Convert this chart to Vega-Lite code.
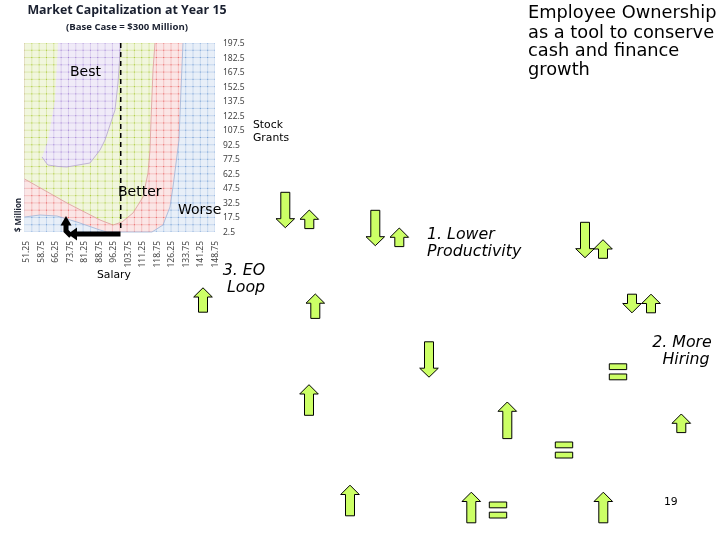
{
"$schema":"https://vega.github.io/schema/vega-lite/v6.json",
"width":720,"height":540,"padding":0,"autosize":{"type":"fit","contains":"padding"},
"background":"#ffffff","view":{"stroke":null},
"resolve":{"scale":{"x":"independent","y":"independent"}},
"datasets":{
"plot":[{"salary":51.25,"top":197.5,"bottom":2.5},{"salary":148.75,"top":197.5,"bottom":2.5}],
"red":[{"salary":51.25,"top":197.5,"bottom":17.98},{"salary":59.18,"top":197.5,"bottom":20.04},{"salary":67.88,"top":197.5,"bottom":19.0},{"salary":78.12,"top":197.5,"bottom":12.8},{"salary":89.89,"top":197.5,"bottom":4.56},{"salary":93.47,"top":197.5,"bottom":2.5},{"salary":116.5,"top":197.5,"bottom":2.5},{"salary":122.13,"top":197.5,"bottom":9.72},{"salary":125.71,"top":197.5,"bottom":28.3},{"salary":127.25,"top":197.5,"bottom":48.9},{"salary":130.32,"top":197.5,"bottom":97.4},{"salary":131.34,"top":197.5,"bottom":149.0},{"salary":132.37,"top":197.5,"bottom":197.5}],
"green":[{"salary":51.25,"top":197.5,"bottom":57.2},{"salary":73.0,"top":197.5,"bottom":32.4},{"salary":89.89,"top":197.5,"bottom":14.9},{"salary":96.54,"top":197.5,"bottom":9.7},{"salary":101.15,"top":197.5,"bottom":12.8},{"salary":106.78,"top":197.5,"bottom":22.1},{"salary":111.9,"top":197.5,"bottom":38.6},{"salary":114.46,"top":197.5,"bottom":63.4},{"salary":115.48,"top":197.5,"bottom":87.1},{"salary":116.0,"top":197.5,"bottom":118.05},{"salary":117.02,"top":197.5,"bottom":169.6},{"salary":118.04,"top":197.5,"bottom":197.5}],
"purple":[{"salary":60.2,"top":79.9,"bottom":79.9},{"salary":62.77,"top":94.3,"bottom":72.7},{"salary":63.28,"top":97.4,"bottom":71.6},{"salary":66.86,"top":138.7,"bottom":70.6},{"salary":68.4,"top":197.5,"bottom":70.1},{"salary":73.0,"top":197.5,"bottom":69.6},{"salary":84.77,"top":197.5,"bottom":73.7},{"salary":89.89,"top":197.5,"bottom":87.1},{"salary":92.45,"top":197.5,"bottom":97.4},{"salary":97.57,"top":197.5,"bottom":128.4},{"salary":99.1,"top":197.5,"bottom":156.2},{"salary":100.5,"top":197.5,"bottom":197.5}],
"gridX":[{"salary":51.25},{"salary":55},{"salary":58.75},{"salary":62.5},{"salary":66.25},{"salary":70},{"salary":73.75},{"salary":77.5},{"salary":81.25},{"salary":85},{"salary":88.75},{"salary":92.5},{"salary":96.25},{"salary":100},{"salary":103.75},{"salary":107.5},{"salary":111.25},{"salary":115},{"salary":118.75},{"salary":122.5},{"salary":126.25},{"salary":130},{"salary":133.75},{"salary":137.5},{"salary":141.25},{"salary":145},{"salary":148.75}],
"gridY":[{"stock":2.5},{"stock":10},{"stock":17.5},{"stock":25},{"stock":32.5},{"stock":40},{"stock":47.5},{"stock":55},{"stock":62.5},{"stock":70},{"stock":77.5},{"stock":85},{"stock":92.5},{"stock":100},{"stock":107.5},{"stock":115},{"stock":122.5},{"stock":130},{"stock":137.5},{"stock":145},{"stock":152.5},{"stock":160},{"stock":167.5},{"stock":175},{"stock":182.5},{"stock":190},{"stock":197.5}],
"xLabels":[{"salary":51.25,"label":"51.25"},{"salary":58.75,"label":"58.75"},{"salary":66.25,"label":"66.25"},{"salary":73.75,"label":"73.75"},{"salary":81.25,"label":"81.25"},{"salary":88.75,"label":"88.75"},{"salary":96.25,"label":"96.25"},{"salary":103.75,"label":"103.75"},{"salary":111.25,"label":"111.25"},{"salary":118.75,"label":"118.75"},{"salary":126.25,"label":"126.25"},{"salary":133.75,"label":"133.75"},{"salary":141.25,"label":"141.25"},{"salary":148.75,"label":"148.75"}],
"yLabels":[{"stock":197.5,"label":"197.5"},{"stock":182.5,"label":"182.5"},{"stock":167.5,"label":"167.5"},{"stock":152.5,"label":"152.5"},{"stock":137.5,"label":"137.5"},{"stock":122.5,"label":"122.5"},{"stock":107.5,"label":"107.5"},{"stock":92.5,"label":"92.5"},{"stock":77.5,"label":"77.5"},{"stock":62.5,"label":"62.5"},{"stock":47.5,"label":"47.5"},{"stock":32.5,"label":"32.5"},{"stock":17.5,"label":"17.5"},{"stock":2.5,"label":"2.5"}],
"shafts":[{"part":"h","n":1,"sx":120.5,"sy":234},{"part":"h","n":2,"sx":75,"sy":234},{"part":"v","n":1,"sx":66,"sy":223},{"part":"v","n":2,"sx":66,"sy":231},{"part":"v","n":3,"sx":71,"sy":236}],
"headLeft":[{"sx":73,"sy":234}],
"headUp":[{"sx":66,"sy":221}],
"up19":[{"sx":309.3,"sy":219.3},{"sx":399.3,"sy":237.3},{"sx":603,"sy":249},{"sx":651,"sy":303.5},{"sx":681.3,"sy":423.3}],
"down19":[{"sx":632,"sy":303.5}],
"up25":[{"sx":203,"sy":300},{"sx":315.3,"sy":306.2}],
"up30":[{"sx":309,"sy":400},{"sx":350,"sy":500.5},{"sx":471.3,"sy":507.5},{"sx":603.3,"sy":507.5}],
"up37":[{"sx":507.3,"sy":420.3}],
"down35":[{"sx":285.3,"sy":210},{"sx":375.3,"sy":228},{"sx":429,"sy":359.5},{"sx":585,"sy":240}],
"equal":[{"sx":618,"sy":371.8},{"sx":564,"sy":450},{"sx":498,"sy":510}],
"titleText":[{"sx":127,"sy":10,"t":"Market Capitalization  at Year 15"}],
"subText":[{"sx":127,"sy":27,"t":"(Base Case = $300 Million)"}],
"regionText":[{"sx":70,"sy":72,"t":"Best"},{"sx":118,"sy":192,"t":"Better"},{"sx":178,"sy":210,"t":"Worse"}],
"smallText":[{"sx":253,"sy":125,"t":"Stock"},{"sx":253,"sy":138,"t":"Grants"},{"sx":97,"sy":275,"t":"Salary"},{"sx":664,"sy":502,"t":"19"}],
"heading":[{"sx":528,"sy":18,"t":"Employee Ownership"},{"sx":528,"sy":37.5,"t":"as a tool to conserve"},{"sx":528,"sy":56,"t":"cash and finance"},{"sx":528,"sy":75,"t":"growth"}],
"notesLeft":[{"sx":427,"sy":234,"t":"1. Lower"},{"sx":427,"sy":251,"t":"Productivity"}],
"notesCenter":[{"sx":244,"sy":270,"t":"3. EO"},{"sx":246,"sy":287,"t":"Loop"},{"sx":682,"sy":342,"t":"2. More"},{"sx":686,"sy":359,"t":"Hiring"}],
"million":[{"sx":19,"sy":215,"t":"$ Million"}]
},
"layer":[
{"data":{"name":"plot"},"mark":{"type":"area","fill":"#e8eff8"},"encoding":{"x":{"field":"salary","type":"quantitative","axis":null,"scale":{"domain":[51.25,148.75],"range":[24.5,215],"nice":false,"zero":false}},"y":{"field":"top","type":"quantitative","axis":null,"scale":{"domain":[2.5,197.5],"range":[232,43],"nice":false,"zero":false}},"y2":{"field":"bottom"}}},
{"data":{"name":"red"},"mark":{"type":"area","fill":"#fbe6e6"},"encoding":{"x":{"field":"salary","type":"quantitative","axis":null,"scale":{"domain":[51.25,148.75],"range":[24.5,215],"nice":false,"zero":false}},"y":{"field":"top","type":"quantitative","axis":null,"scale":{"domain":[2.5,197.5],"range":[232,43],"nice":false,"zero":false}},"y2":{"field":"bottom"}}},
{"data":{"name":"green"},"mark":{"type":"area","fill":"#f1f6de"},"encoding":{"x":{"field":"salary","type":"quantitative","axis":null,"scale":{"domain":[51.25,148.75],"range":[24.5,215],"nice":false,"zero":false}},"y":{"field":"top","type":"quantitative","axis":null,"scale":{"domain":[2.5,197.5],"range":[232,43],"nice":false,"zero":false}},"y2":{"field":"bottom"}}},
{"data":{"name":"purple"},"mark":{"type":"area","fill":"#f0ebf8"},"encoding":{"x":{"field":"salary","type":"quantitative","axis":null,"scale":{"domain":[51.25,148.75],"range":[24.5,215],"nice":false,"zero":false}},"y":{"field":"top","type":"quantitative","axis":null,"scale":{"domain":[2.5,197.5],"range":[232,43],"nice":false,"zero":false}},"y2":{"field":"bottom"}}},
{"data":{"name":"gridX"},"mark":{"type":"rule","stroke":"#666666","strokeWidth":1,"blend":"color-burn","y":43,"y2":232},"encoding":{"x":{"field":"salary","type":"quantitative","axis":null,"scale":{"domain":[51.25,148.75],"range":[24.5,215],"nice":false,"zero":false}}}},
{"data":{"name":"gridY"},"mark":{"type":"rule","stroke":"#666666","strokeWidth":1,"blend":"color-burn","x":24.5,"x2":215},"encoding":{"y":{"field":"stock","type":"quantitative","axis":null,"scale":{"domain":[2.5,197.5],"range":[232,43],"nice":false,"zero":false}}}},
{"data":{"name":"red"},"mark":{"type":"line","stroke":"#9db4d8","strokeWidth":0.8},"encoding":{"x":{"field":"salary","type":"quantitative","axis":null,"scale":{"domain":[51.25,148.75],"range":[24.5,215],"nice":false,"zero":false}},"y":{"field":"bottom","type":"quantitative","axis":null,"scale":{"domain":[2.5,197.5],"range":[232,43],"nice":false,"zero":false}}}},
{"data":{"name":"green"},"mark":{"type":"line","stroke":"#dd9a9a","strokeWidth":0.8},"encoding":{"x":{"field":"salary","type":"quantitative","axis":null,"scale":{"domain":[51.25,148.75],"range":[24.5,215],"nice":false,"zero":false}},"y":{"field":"bottom","type":"quantitative","axis":null,"scale":{"domain":[2.5,197.5],"range":[232,43],"nice":false,"zero":false}}}},
{"data":{"name":"purple"},"mark":{"type":"line","stroke":"#b5a5d0","strokeWidth":0.8},"encoding":{"x":{"field":"salary","type":"quantitative","axis":null,"scale":{"domain":[51.25,148.75],"range":[24.5,215],"nice":false,"zero":false}},"y":{"field":"bottom","type":"quantitative","axis":null,"scale":{"domain":[2.5,197.5],"range":[232,43],"nice":false,"zero":false}}}},
{"data":{"values":[{"salary":100.5}]},"mark":{"type":"rule","stroke":"#000000","strokeWidth":1.5,"strokeDash":[5,4],"y":43,"y2":232},"encoding":{"x":{"field":"salary","type":"quantitative","axis":null,"scale":{"domain":[51.25,148.75],"range":[24.5,215],"nice":false,"zero":false}}}},
{"data":{"name":"xLabels"},"mark":{"type":"text","font":"Noto Sans","fontSize":8.5,"fill":"#444444","angle":270,"align":"right","baseline":"middle","y":241},"encoding":{"x":{"field":"salary","type":"quantitative","axis":null,"scale":{"domain":[51.25,148.75],"range":[26,215],"nice":false,"zero":false}},"text":{"field":"label"}}},
{"data":{"name":"yLabels"},"mark":{"type":"text","font":"Noto Sans","fontSize":8.5,"fill":"#444444","align":"left","baseline":"middle","x":223},"encoding":{"y":{"field":"stock","type":"quantitative","axis":null,"scale":{"domain":[2.5,197.5],"range":[232,43],"nice":false,"zero":false}},"text":{"field":"label"}}},
{"data":{"name":"shafts"},"mark":{"type":"line","stroke":"#000000","strokeWidth":5,"strokeCap":"butt"},"encoding":{"x":{"field":"sx","type":"quantitative","axis":null,"scale":{"domain":[0,720],"range":[0,720],"nice":false,"zero":false}},"y":{"field":"sy","type":"quantitative","axis":null,"scale":{"domain":[0,540],"range":[0,540],"nice":false,"zero":false}},"detail":{"field":"part"},"order":{"field":"n"}}},
{"data":{"name":"headLeft"},"mark":{"type":"point","shape":"M-5,0 L4,-6.5 L4,6.5 Z","size":4,"filled":true,"fill":"#000000","opacity":1},"encoding":{"x":{"field":"sx","type":"quantitative","axis":null,"scale":{"domain":[0,720],"range":[0,720],"nice":false,"zero":false}},"y":{"field":"sy","type":"quantitative","axis":null,"scale":{"domain":[0,540],"range":[0,540],"nice":false,"zero":false}}}},
{"data":{"name":"headUp"},"mark":{"type":"point","shape":"M0,-5 L5.5,4.5 L-5.5,4.5 Z","size":4,"filled":true,"fill":"#000000","opacity":1},"encoding":{"x":{"field":"sx","type":"quantitative","axis":null,"scale":{"domain":[0,720],"range":[0,720],"nice":false,"zero":false}},"y":{"field":"sy","type":"quantitative","axis":null,"scale":{"domain":[0,540],"range":[0,540],"nice":false,"zero":false}}}},
{"data":{"name":"up19"},"mark":{"type":"point","shape":"M0,-9.3 L9.3,0 L4.5,0 L4.5,9.3 L-4.5,9.3 L-4.5,0 L-9.3,0 Z","size":4,"filled":true,"fill":"#ccff66","stroke":"#000000","strokeWidth":1,"opacity":1},"encoding":{"x":{"field":"sx","type":"quantitative","axis":null,"scale":{"domain":[0,720],"range":[0,720],"nice":false,"zero":false}},"y":{"field":"sy","type":"quantitative","axis":null,"scale":{"domain":[0,540],"range":[0,540],"nice":false,"zero":false}}}},
{"data":{"name":"down19"},"mark":{"type":"point","shape":"M0,9.3 L9.3,0 L4.5,0 L4.5,-9.3 L-4.5,-9.3 L-4.5,0 L-9.3,0 Z","size":4,"filled":true,"fill":"#ccff66","stroke":"#000000","strokeWidth":1,"opacity":1},"encoding":{"x":{"field":"sx","type":"quantitative","axis":null,"scale":{"domain":[0,720],"range":[0,720],"nice":false,"zero":false}},"y":{"field":"sy","type":"quantitative","axis":null,"scale":{"domain":[0,540],"range":[0,540],"nice":false,"zero":false}}}},
{"data":{"name":"up25"},"mark":{"type":"point","shape":"M0,-12.2 L9.3,-3 L4.5,-3 L4.5,12.2 L-4.5,12.2 L-4.5,-3 L-9.3,-3 Z","size":4,"filled":true,"fill":"#ccff66","stroke":"#000000","strokeWidth":1,"opacity":1},"encoding":{"x":{"field":"sx","type":"quantitative","axis":null,"scale":{"domain":[0,720],"range":[0,720],"nice":false,"zero":false}},"y":{"field":"sy","type":"quantitative","axis":null,"scale":{"domain":[0,540],"range":[0,540],"nice":false,"zero":false}}}},
{"data":{"name":"up30"},"mark":{"type":"point","shape":"M0,-15.3 L9.3,-6 L4.5,-6 L4.5,15.3 L-4.5,15.3 L-4.5,-6 L-9.3,-6 Z","size":4,"filled":true,"fill":"#ccff66","stroke":"#000000","strokeWidth":1,"opacity":1},"encoding":{"x":{"field":"sx","type":"quantitative","axis":null,"scale":{"domain":[0,720],"range":[0,720],"nice":false,"zero":false}},"y":{"field":"sy","type":"quantitative","axis":null,"scale":{"domain":[0,540],"range":[0,540],"nice":false,"zero":false}}}},
{"data":{"name":"up37"},"mark":{"type":"point","shape":"M0,-18.3 L9.3,-9 L4.5,-9 L4.5,18.3 L-4.5,18.3 L-4.5,-9 L-9.3,-9 Z","size":4,"filled":true,"fill":"#ccff66","stroke":"#000000","strokeWidth":1,"opacity":1},"encoding":{"x":{"field":"sx","type":"quantitative","axis":null,"scale":{"domain":[0,720],"range":[0,720],"nice":false,"zero":false}},"y":{"field":"sy","type":"quantitative","axis":null,"scale":{"domain":[0,540],"range":[0,540],"nice":false,"zero":false}}}},
{"data":{"name":"down35"},"mark":{"type":"point","shape":"M0,17.7 L9.3,8.7 L4.5,8.7 L4.5,-17.7 L-4.5,-17.7 L-4.5,8.7 L-9.3,8.7 Z","size":4,"filled":true,"fill":"#ccff66","stroke":"#000000","strokeWidth":1,"opacity":1},"encoding":{"x":{"field":"sx","type":"quantitative","axis":null,"scale":{"domain":[0,720],"range":[0,720],"nice":false,"zero":false}},"y":{"field":"sy","type":"quantitative","axis":null,"scale":{"domain":[0,540],"range":[0,540],"nice":false,"zero":false}}}},
{"data":{"name":"equal"},"mark":{"type":"point","shape":"M-8.7,-8 L8.7,-8 L8.7,-2.2 L-8.7,-2.2 Z M-8.7,2.2 L8.7,2.2 L8.7,8 L-8.7,8 Z","size":4,"filled":true,"fill":"#ccff66","stroke":"#000000","strokeWidth":1,"opacity":1},"encoding":{"x":{"field":"sx","type":"quantitative","axis":null,"scale":{"domain":[0,720],"range":[0,720],"nice":false,"zero":false}},"y":{"field":"sy","type":"quantitative","axis":null,"scale":{"domain":[0,540],"range":[0,540],"nice":false,"zero":false}}}},
{"data":{"name":"titleText"},"mark":{"type":"text","font":"Open Sans","fontWeight":"bold","fontSize":12.4,"fill":"#1a2030","align":"center","baseline":"middle"},"encoding":{"x":{"field":"sx","type":"quantitative","axis":null,"scale":{"domain":[0,720],"range":[0,720],"nice":false,"zero":false}},"y":{"field":"sy","type":"quantitative","axis":null,"scale":{"domain":[0,540],"range":[0,540],"nice":false,"zero":false}},"text":{"field":"t"}}},
{"data":{"name":"subText"},"mark":{"type":"text","font":"Open Sans","fontWeight":"bold","fontSize":9.6,"fill":"#1a2030","align":"center","baseline":"middle"},"encoding":{"x":{"field":"sx","type":"quantitative","axis":null,"scale":{"domain":[0,720],"range":[0,720],"nice":false,"zero":false}},"y":{"field":"sy","type":"quantitative","axis":null,"scale":{"domain":[0,540],"range":[0,540],"nice":false,"zero":false}},"text":{"field":"t"}}},
{"data":{"name":"regionText"},"mark":{"type":"text","font":"DejaVu Sans","fontSize":14,"fill":"#000000","align":"left","baseline":"middle"},"encoding":{"x":{"field":"sx","type":"quantitative","axis":null,"scale":{"domain":[0,720],"range":[0,720],"nice":false,"zero":false}},"y":{"field":"sy","type":"quantitative","axis":null,"scale":{"domain":[0,540],"range":[0,540],"nice":false,"zero":false}},"text":{"field":"t"}}},
{"data":{"name":"smallText"},"mark":{"type":"text","font":"DejaVu Sans","fontSize":10.8,"fill":"#000000","align":"left","baseline":"middle"},"encoding":{"x":{"field":"sx","type":"quantitative","axis":null,"scale":{"domain":[0,720],"range":[0,720],"nice":false,"zero":false}},"y":{"field":"sy","type":"quantitative","axis":null,"scale":{"domain":[0,540],"range":[0,540],"nice":false,"zero":false}},"text":{"field":"t"}}},
{"data":{"name":"heading"},"mark":{"type":"text","font":"DejaVu Sans","fontSize":17.8,"fill":"#000000","align":"left","baseline":"alphabetic"},"encoding":{"x":{"field":"sx","type":"quantitative","axis":null,"scale":{"domain":[0,720],"range":[0,720],"nice":false,"zero":false}},"y":{"field":"sy","type":"quantitative","axis":null,"scale":{"domain":[0,540],"range":[0,540],"nice":false,"zero":false}},"text":{"field":"t"}}},
{"data":{"name":"notesLeft"},"mark":{"type":"text","font":"DejaVu Sans","fontStyle":"italic","fontSize":15.8,"fill":"#000000","align":"left","baseline":"middle"},"encoding":{"x":{"field":"sx","type":"quantitative","axis":null,"scale":{"domain":[0,720],"range":[0,720],"nice":false,"zero":false}},"y":{"field":"sy","type":"quantitative","axis":null,"scale":{"domain":[0,540],"range":[0,540],"nice":false,"zero":false}},"text":{"field":"t"}}},
{"data":{"name":"notesCenter"},"mark":{"type":"text","font":"DejaVu Sans","fontStyle":"italic","fontSize":15.8,"fill":"#000000","align":"center","baseline":"middle"},"encoding":{"x":{"field":"sx","type":"quantitative","axis":null,"scale":{"domain":[0,720],"range":[0,720],"nice":false,"zero":false}},"y":{"field":"sy","type":"quantitative","axis":null,"scale":{"domain":[0,540],"range":[0,540],"nice":false,"zero":false}},"text":{"field":"t"}}},
{"data":{"name":"million"},"mark":{"type":"text","font":"Open Sans","fontWeight":"bold","fontSize":8,"fill":"#1a2030","align":"center","baseline":"middle","angle":270},"encoding":{"x":{"field":"sx","type":"quantitative","axis":null,"scale":{"domain":[0,720],"range":[0,720],"nice":false,"zero":false}},"y":{"field":"sy","type":"quantitative","axis":null,"scale":{"domain":[0,540],"range":[0,540],"nice":false,"zero":false}},"text":{"field":"t"}}}
]
}
